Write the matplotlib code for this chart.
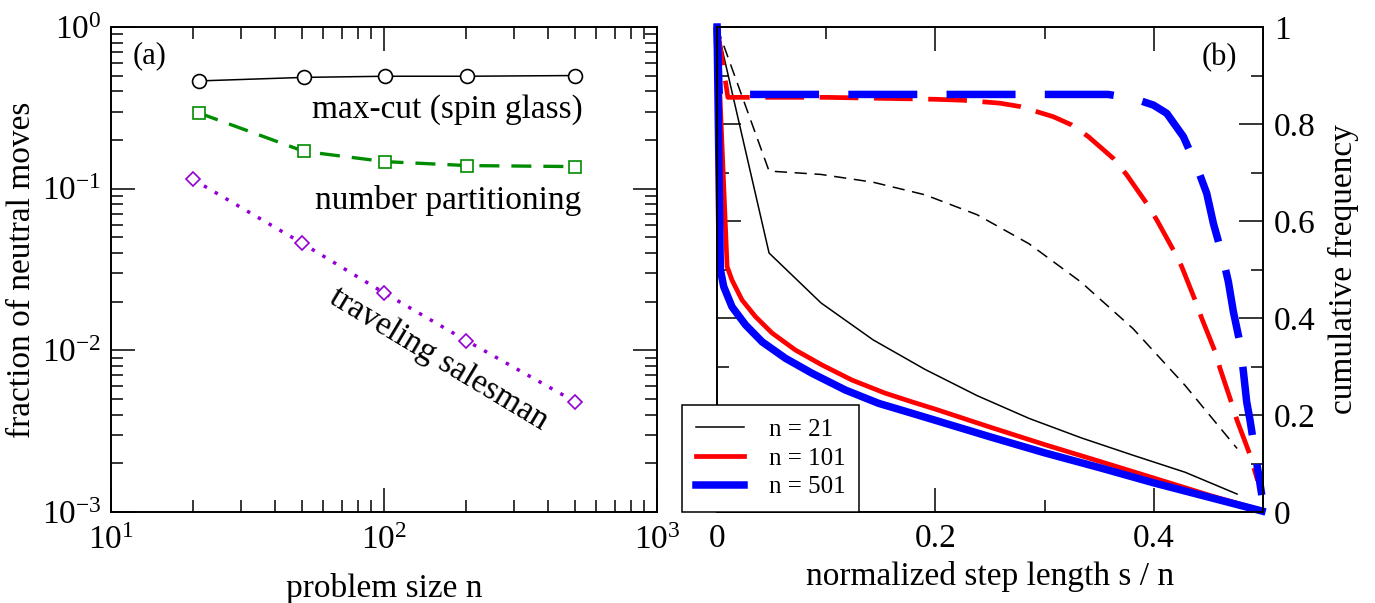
"""Neutral moves (a) and cumulative step-length frequency (b)."""

import numpy as np
import matplotlib
matplotlib.use("Agg")
import matplotlib.pyplot as plt
from matplotlib.ticker import FuncFormatter, MultipleLocator, NullFormatter

plt.rcParams["font.family"] = ["Liberation Serif", "DejaVu Serif"]
plt.rcParams["mathtext.fontset"] = "custom"
plt.rcParams["mathtext.rm"] = "Liberation Serif"

# panel (a): fraction of neutral moves vs problem size
maxcut_n = [21, 51, 101, 201, 501]
maxcut_frac = [0.464, 0.488, 0.496, 0.496, 0.501]
numpart_n = [21, 51, 101, 201, 501]
numpart_frac = [0.294, 0.170, 0.147, 0.139, 0.137]
tsp_n = [20, 50, 100, 200, 500]
tsp_frac = [0.114, 0.0461, 0.0227, 0.0115, 0.00482]

# panel (b): cumulative frequency vs normalized step length
steps21 = list(range(11))
cum21_solid = [1.0, 0.534, 0.431, 0.355, 0.294, 0.240, 0.193, 0.153, 0.117, 0.082, 0.037]
cum21_dash = [1.0, 0.703, 0.696, 0.680, 0.654, 0.613, 0.553, 0.474, 0.378, 0.261, 0.131]

x101_solid = [0, 0.0092, 0.0137, 0.0229, 0.0351, 0.0504, 0.0717, 0.0962, 0.1236,
              0.154, 0.1786, 0.2, 0.25, 0.3, 0.351, 0.4, 0.453, 0.495]
cum101_solid = [1.0, 0.506, 0.478, 0.437, 0.403, 0.369, 0.334, 0.303, 0.272,
                0.245, 0.227, 0.212, 0.175, 0.139, 0.104, 0.070, 0.033, 0.006]
x101_dash = [0, 0.0099, 0.1, 0.2, 0.225, 0.259, 0.2775, 0.308, 0.3248, 0.340,
             0.3629, 0.3752, 0.3935, 0.4027, 0.4179, 0.4255, 0.4377, 0.4439,
             0.456, 0.4606, 0.4713, 0.476, 0.488, 0.495]
cum101_dash = [1.0, 0.855, 0.855, 0.851, 0.849, 0.843, 0.836, 0.815, 0.798, 0.774,
               0.729, 0.695, 0.636, 0.602, 0.540, 0.506, 0.437, 0.399,
               0.331, 0.296, 0.224, 0.19, 0.118, 0.065]

x501_solid = [0, 0.003, 0.0061, 0.0137, 0.026, 0.0412, 0.0626, 0.087, 0.1175,
              0.148, 0.1786, 0.2, 0.25, 0.3, 0.351, 0.4, 0.453, 0.499]
cum501_solid = [1.0, 0.50, 0.4646, 0.423, 0.386, 0.351, 0.317, 0.286, 0.2515,
                0.224, 0.2035, 0.189, 0.155, 0.122, 0.091, 0.060, 0.029, 0.002]
x501_dash = [0, 0.002, 0.1, 0.2, 0.3, 0.358, 0.381, 0.3996, 0.4118, 0.427, 0.4393,
             0.4484, 0.4545, 0.4622, 0.4682, 0.4728, 0.4789, 0.482, 0.485, 0.488,
             0.494, 0.4988]
cum501_dash = [1.0, 0.861, 0.861, 0.861, 0.861, 0.861, 0.853, 0.839, 0.822, 0.774, 0.712,
               0.657, 0.595, 0.533, 0.475, 0.413, 0.348, 0.289, 0.227, 0.19,
               0.104, 0.035]

legend_labels = ["n = 21", "n = 101", "n = 501"]

GREEN = "#008c00"
PURPLE = "#9400d3"
FS = 24


def style_axes(ax):
    for sp in ax.spines.values():
        sp.set_linewidth(1.4)
    ax.tick_params(which="both", direction="in", top=True, right=True,
                   width=1.1, labelsize=FS)
    ax.tick_params(which="major", length=17)
    ax.tick_params(which="minor", length=8.5)


def pow10(v, pos):
    return r"$\mathregular{10^{%d}}$" % round(np.log10(v))


fig = plt.figure(figsize=(13.75, 6.03), dpi=100)
ax_a = fig.add_axes([0.0807, 0.1509, 0.3971, 0.8043])
ax_b = fig.add_axes([0.5215, 0.1509, 0.3971, 0.8043])

# ---- panel (a)
ax_a.plot(maxcut_n, maxcut_frac, "-", color="black", lw=1.1, marker="o",
          ms=10, mfc="white", mec="black", mew=1.2)
ax_a.plot(numpart_n, numpart_frac, color=GREEN, lw=2.4, dashes=(6, 3.6),
          marker="s", ms=9, mfc="white", mec=GREEN, mew=1.2)
ax_a.plot(tsp_n, tsp_frac, color=PURPLE, lw=2.5, dashes=(1, 2.6),
          marker="D", ms=7.5, mfc="white", mec=PURPLE, mew=1.2)
ax_a.set_xscale("log")
ax_a.set_yscale("log")
ax_a.set_xlim(10, 1000)
ax_a.set_ylim(1e-3, 1)
style_axes(ax_a)
ax_a.xaxis.set_major_formatter(FuncFormatter(pow10))
ax_a.yaxis.set_major_formatter(FuncFormatter(pow10))
ax_a.xaxis.set_minor_formatter(NullFormatter())
ax_a.yaxis.set_minor_formatter(NullFormatter())
ax_a.tick_params(axis="x", pad=10)
ax_a.tick_params(axis="y", pad=7)

ax_a.set_xlabel("problem size n", fontsize=FS, va="center")
ax_a.xaxis.set_label_coords(0.5, -0.157)
ax_a.set_ylabel("fraction of neutral moves", fontsize=FS, va="center")
ax_a.yaxis.set_label_coords(-0.163, 0.5)

ax_a.text(0.04, 0.94, "(a)", transform=ax_a.transAxes, fontsize=22,
          ha="left", va="center")
ax_a.text(0.864, 0.829, "max-cut (spin glass)", transform=ax_a.transAxes,
          fontsize=FS, ha="right", va="center")
ax_a.text(0.861, 0.642, "number partitioning", transform=ax_a.transAxes,
          fontsize=FS, ha="right", va="center")
ax_a.text(0.601, 0.315, "traveling salesman", transform=ax_a.transAxes,
          fontsize=FS, ha="center", va="center", rotation=-31,
          rotation_mode="anchor")

# ---- panel (b)
x21 = [s / 21 for s in steps21]
ax_b.plot(x21, cum21_dash, color="black", lw=1.1, dashes=(8, 5), clip_on=False)
l21, = ax_b.plot(x21, cum21_solid, color="black", lw=1.1, clip_on=False)
ax_b.plot(x101_dash, cum101_dash, color="red", lw=3.4, dashes=(8.2, 3.3),
          clip_on=False)
l101, = ax_b.plot(x101_solid, cum101_solid, color="red", lw=3.4, clip_on=False)
ax_b.plot(x501_dash, cum501_dash, color="blue", lw=5.4, dashes=(9.2, 3.9),
          clip_on=False)
l501, = ax_b.plot(x501_solid, cum501_solid, color="blue", lw=5.4, clip_on=False)

ax_b.set_xlim(0, 0.5)
ax_b.set_ylim(0, 1)
style_axes(ax_b)
ax_b.xaxis.set_major_locator(MultipleLocator(0.2))
ax_b.xaxis.set_minor_locator(MultipleLocator(0.1))
ax_b.yaxis.set_major_locator(MultipleLocator(0.2))
ax_b.yaxis.set_minor_locator(MultipleLocator(0.1))
fmt = FuncFormatter(lambda v, p: "%g" % round(v, 2))
ax_b.xaxis.set_major_formatter(fmt)
ax_b.yaxis.set_major_formatter(fmt)
ax_b.tick_params(axis="y", labelleft=False, labelright=True, pad=8)
ax_b.tick_params(axis="x", pad=8)

ax_b.set_xlabel("normalized step length s / n", fontsize=FS, va="center")
ax_b.xaxis.set_label_coords(0.5, -0.134)
ax_b.yaxis.set_label_position("right")
ax_b.set_ylabel("cumulative frequency", fontsize=FS, va="center", rotation=90)
ax_b.yaxis.set_label_coords(1.148, 0.5)

ax_b.text(0.952, 0.937, "(b)", transform=ax_b.transAxes, fontsize=22,
          ha="right", va="center")

leg = ax_b.legend([l21, l101, l501], legend_labels, loc="lower left",
                  bbox_to_anchor=(-0.064, 0.0), borderaxespad=0, fontsize=18,
                  handlelength=1.94, handletextpad=0.98, borderpad=0.55,
                  labelspacing=0.25, fancybox=False, framealpha=1,
                  edgecolor="black")
leg.get_frame().set_linewidth(1.1)
leg.set_zorder(10)

fig.savefig("out.png", dpi=100)
